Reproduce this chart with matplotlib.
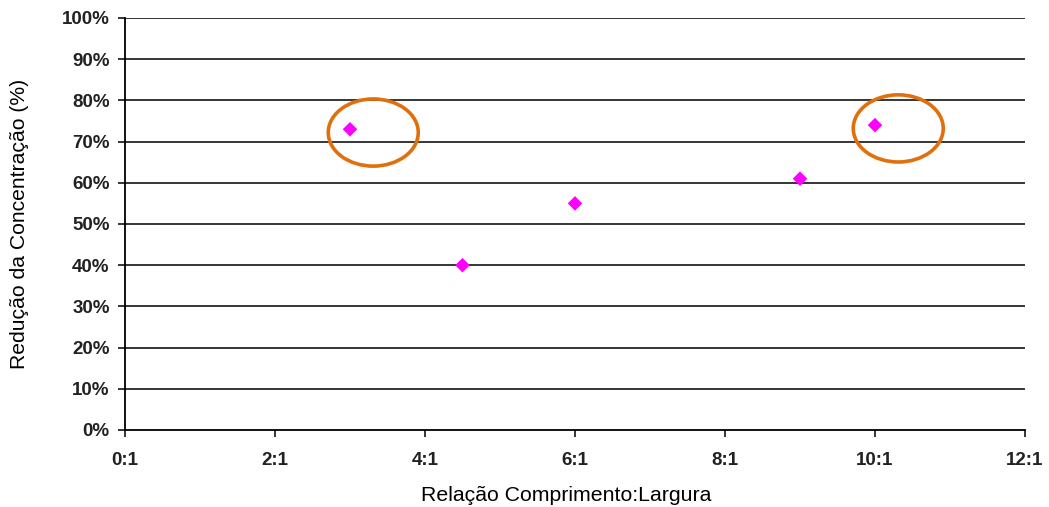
import matplotlib
matplotlib.use("Agg")
import matplotlib.pyplot as plt
import matplotlib.patches as patches
from matplotlib.ticker import FuncFormatter

plt.rcParams['font.family'] = ['Liberation Sans', 'DejaVu Sans']

# data
ratio = [3, 4.5, 6, 9, 10]
reducao = [73, 40, 55, 61, 74]
destaque = [0, 4]  # points circled in orange

x_ticks = [0, 2, 4, 6, 8, 10, 12]
y_ticks = list(range(0, 101, 10))

fig = plt.figure(figsize=(10.49, 5.07), dpi=100)
ax = fig.add_axes([125 / 1049, 1 - 430 / 507, 900 / 1049, 412 / 507])

ax.set_xlim(0, 12)
ax.set_ylim(0, 100)

for y in y_ticks[1:]:
    ax.axhline(y, color='black', lw=1.1, zorder=1)

ax.scatter(ratio, reducao, marker='D', s=55, color='#FF00FF', edgecolors='none', zorder=3)

# orange highlight ellipses, offset slightly from the points
for i in destaque:
    e = patches.Ellipse((ratio[i] + 0.31, reducao[i] - 0.8), 1.2, 16.3,
                        fill=False, edgecolor='#E0700E', lw=2.6, zorder=4)
    ax.add_patch(e)

for s in ['top', 'right']:
    ax.spines[s].set_visible(False)
for s in ['left', 'bottom']:
    ax.spines[s].set_linewidth(1.3)
    ax.spines[s].set_color('black')

ax.set_xticks(x_ticks)
ax.xaxis.set_major_formatter(FuncFormatter(lambda v, p: f"{int(v)}:1"))
ax.set_yticks(y_ticks)
ax.yaxis.set_major_formatter(FuncFormatter(lambda v, p: f"{int(v)}%"))
ax.tick_params(direction='out', length=5, width=1.1, colors='black', labelcolor='#222222',
               labelsize=13.5)
for lbl in ax.get_xticklabels() + ax.get_yticklabels():
    lbl.set_fontweight('bold')
ax.tick_params(axis='x', pad=11)
ax.tick_params(axis='y', pad=6)

ax.set_xlabel("Relação Comprimento:Largura", fontsize=15.3)
ax.set_ylabel("Redução da Concentração (%)", fontsize=15.2)
ax.xaxis.set_label_coords(0.49, -0.158)
ax.xaxis.label.set_va('center')
ax.yaxis.set_label_coords(-0.117, 0.5)
ax.yaxis.label.set_va('center')

fig.savefig("out.png", dpi=100)
